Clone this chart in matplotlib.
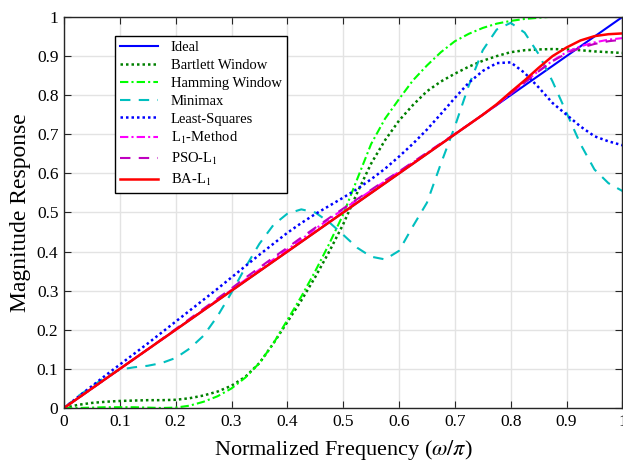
import numpy as np
import matplotlib
matplotlib.use("Agg")
import matplotlib.pyplot as plt

plt.rcParams["font.family"] = "serif"
plt.rcParams["font.serif"] = ["Liberation Serif", "DejaVu Serif"]
plt.rcParams["mathtext.fontset"] = "stix"

# frequency grid (normalized, step 0.025)
freq = np.linspace(0, 1, 41)

ideal_freq = [0.0, 1.0]
ideal = [0.0, 1.0]

bartlett = [0.000, 0.008, 0.013, 0.016, 0.018, 0.019, 0.020, 0.020, 0.021, 0.025,
            0.032, 0.042, 0.057, 0.080, 0.115, 0.165, 0.220, 0.275, 0.335, 0.400,
            0.470, 0.550, 0.625, 0.685, 0.735, 0.775, 0.810, 0.835, 0.855, 0.873,
            0.888, 0.900, 0.910, 0.915, 0.917, 0.918, 0.917, 0.915, 0.912, 0.910,
            0.908]

hamming = [0.000, 0.000, 0.001, 0.002, 0.002, 0.002, 0.001, 0.000, 0.001, 0.006,
           0.016, 0.030, 0.050, 0.078, 0.115, 0.165, 0.225, 0.285, 0.350, 0.420,
           0.495, 0.585, 0.675, 0.740, 0.790, 0.838, 0.876, 0.910, 0.938, 0.957,
           0.972, 0.983, 0.990, 0.995, 0.998, 1.001, 1.004, 1.006, 1.007, 1.008,
           1.008]

minimax = [0.000, 0.030, 0.055, 0.080, 0.098, 0.104, 0.108, 0.115, 0.128, 0.152,
           0.185, 0.235, 0.295, 0.360, 0.420, 0.468, 0.497, 0.508, 0.500, 0.475,
           0.443, 0.410, 0.387, 0.380, 0.402, 0.465, 0.525, 0.625, 0.720, 0.825,
           0.915, 0.968, 0.985, 0.960, 0.905, 0.835, 0.755, 0.675, 0.610, 0.575,
           0.555]

least_squares = [0.000, 0.028, 0.056, 0.084, 0.111, 0.138, 0.165, 0.193, 0.221, 0.249,
                 0.277, 0.305, 0.334, 0.363, 0.392, 0.420, 0.448, 0.473, 0.496, 0.517,
                 0.538, 0.560, 0.585, 0.612, 0.643, 0.676, 0.712, 0.752, 0.793, 0.832,
                 0.862, 0.882, 0.884, 0.857, 0.820, 0.780, 0.750, 0.720, 0.695, 0.682,
                 0.672]

l1_method = [0.000, 0.025, 0.050, 0.075, 0.100, 0.125, 0.150, 0.175, 0.200, 0.226,
             0.251, 0.277, 0.302, 0.328, 0.354, 0.380, 0.405, 0.431, 0.458, 0.483,
             0.508, 0.532, 0.556, 0.580, 0.604, 0.628, 0.652, 0.676, 0.701, 0.725,
             0.750, 0.776, 0.804, 0.833, 0.862, 0.888, 0.910, 0.925, 0.935, 0.942,
             0.946]

pso_l1 = [0.000, 0.025, 0.050, 0.075, 0.100, 0.125, 0.150, 0.176, 0.202, 0.228,
          0.254, 0.280, 0.306, 0.333, 0.359, 0.385, 0.410, 0.436, 0.461, 0.486,
          0.510, 0.534, 0.558, 0.582, 0.605, 0.629, 0.653, 0.677, 0.701, 0.725,
          0.750, 0.775, 0.803, 0.832, 0.861, 0.887, 0.907, 0.921, 0.931, 0.938,
          0.942]

ba_l1 = [0.000, 0.025, 0.050, 0.075, 0.100, 0.125, 0.150, 0.175, 0.200, 0.225,
         0.250, 0.275, 0.300, 0.325, 0.350, 0.375, 0.400, 0.425, 0.450, 0.475,
         0.500, 0.525, 0.550, 0.575, 0.600, 0.625, 0.650, 0.675, 0.700, 0.725,
         0.750, 0.777, 0.808, 0.838, 0.870, 0.900, 0.922, 0.940, 0.951, 0.956,
         0.958]

x_ticks = [0, 0.1, 0.2, 0.3, 0.4, 0.5, 0.6, 0.7, 0.8, 0.9, 1]
x_tick_labels = ["0", "0.1", "0.2", "0.3", "0.4", "0.5", "0.6", "0.7", "0.8", "0.9", "1"]

fig = plt.figure(figsize=(6.23, 4.63), dpi=100)
ax = fig.add_axes([0.1027, 0.1188, 0.8963, 0.8445])

lw = 1.5
ax.plot(ideal_freq, ideal, color="#0000ff", lw=lw, label="Ideal")
ax.plot(freq, bartlett, color="#008000", lw=lw + 0.3, linestyle=(0, (1, 1.2)),
        label="Bartlett Window")
ax.plot(freq, hamming, color="#00ff00", lw=lw, linestyle=(0, (4, 1.5, 1, 1.5)),
        label="Hamming Window")
ax.plot(freq, minimax, color="#00bfbf", lw=lw, linestyle=(0, (5, 4)),
        label="Minimax")
ax.plot(freq, least_squares, color="#0000ff", lw=lw + 0.3, linestyle=(0, (1, 1.2)),
        label="Least-Squares")
ax.plot(freq, l1_method, color="#ff00ff", lw=lw, linestyle=(0, (4, 1.5, 1, 1.5)),
        label=r"L$_1$-Method")
ax.plot(freq, pso_l1, color="#bf00bf", lw=lw, linestyle=(0, (5, 4)),
        label=r"PSO-L$_1$")
ax.plot(freq, ba_l1, color="#ff0000", lw=lw + 0.3, label=r"BA-L$_1$")

ax.set_xlim(0, 1)
ax.set_ylim(0, 1)
ax.set_xticks(x_ticks)
ax.set_xticklabels(x_tick_labels)
ax.set_yticks(x_ticks)
ax.set_yticklabels(x_tick_labels)
ax.tick_params(direction="in", top=True, right=True, length=5, labelsize=12.5,
               color="#262626", pad=4)
ax.grid(True, color="#e3e3e3", lw=1)
ax.set_axisbelow(True)
for s in ax.spines.values():
    s.set_color("#262626")
    s.set_linewidth(1.0)

ax.set_xlabel(r"Normalized Frequency ($\omega/\pi$)", fontsize=16, labelpad=6)
ax.set_ylabel("Magnitude Response", fontsize=17, labelpad=4)

leg = ax.legend(loc="upper left", bbox_to_anchor=(0.091, 0.952), borderaxespad=0,
                fontsize=10.5, frameon=True, fancybox=False, framealpha=1,
                edgecolor="#000000", handlelength=2.6, labelspacing=0.32,
                borderpad=0.35, handletextpad=0.9)
leg.get_frame().set_linewidth(1.0)

fig.savefig("out.png", dpi=100)
